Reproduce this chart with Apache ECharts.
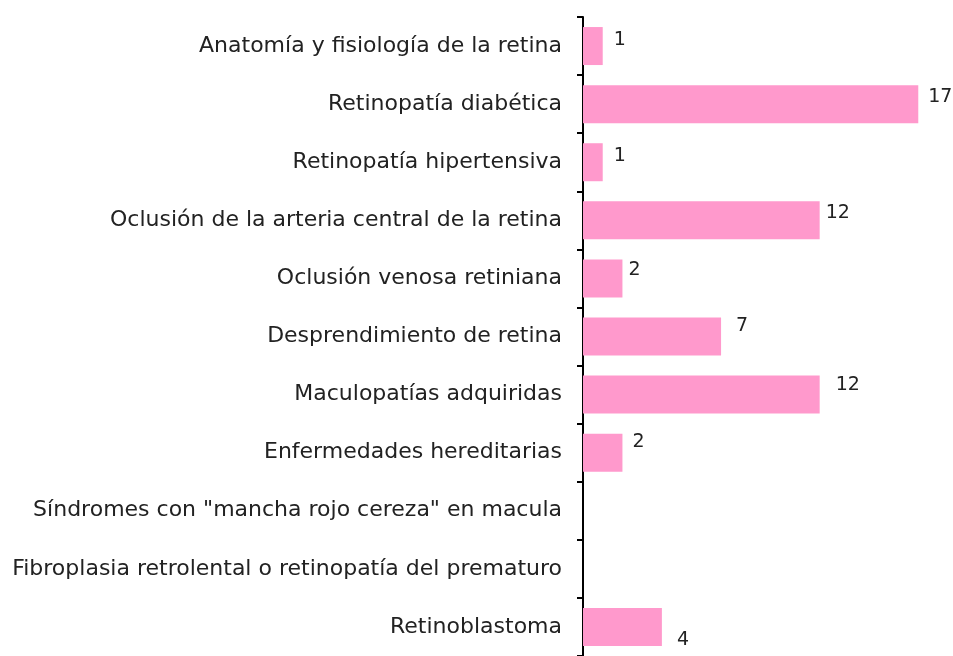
<!DOCTYPE html>
<html>
<head>
<meta charset="utf-8">
<script src="https://cdn.jsdelivr.net/npm/echarts@6/dist/echarts.min.js"></script>
<style>
    html, body {margin: 0; padding: 0; background: #fff;}
    #chart {width: 953px; height: 656px;}
</style>
</head>
<body>
<div id="chart"></div>
<script>
const categories = [
    'Anatomía y fisiología de la retina',
    'Retinopatía diabética',
    'Retinopatía hipertensiva',
    'Oclusión de la arteria central de la retina',
    'Oclusión venosa retiniana',
    'Desprendimiento de retina',
    'Maculopatías adquiridas',
    'Enfermedades hereditarias',
    'Síndromes con "mancha rojo cereza" en macula',
    'Fibroplasia retrolental o retinopatía del prematuro',
    'Retinoblastoma'
]
const values = [1, 17, 1, 12, 2, 7, 12, 2, 0, 0, 4]

// label nudges, the labels in the picture sit a bit off the bar ends
const labelOffsets = [[5, -6], [4, -7], [5, -6], [0, -7], [0, -8], [9, -10], [10, -10], [4, -11], [0, 0], [0, 0], [9, 13]]

const chart = echarts.init(document.getElementById('chart'))

const option = {
    backgroundColor: '#fff',
    grid: {
        left: 583,
        right: 15,
        top: 17,
        bottom: -6
    },
    xAxis: {
        type: 'value',
        min: 0,
        max: 18,
        show: false
    },
    yAxis: {
        type: 'category',
        inverse: true,
        data: categories,
        axisLine: {show: true, lineStyle: {color: '#000', width: 2}},
        axisTick: {show: true, length: 6, lineStyle: {color: '#000', width: 2}},
        axisLabel: {
            margin: 21,
            fontFamily: 'DejaVu Sans',
            fontSize: 22,
            color: '#222',
            padding: [4, 0, 0, 0]
        }
    },
    series: [{
        type: 'bar',
        data: values.map((v, i) => ({
            value: v,
            label: {show: v > 0, offset: labelOffsets[i]}
        })),
        barWidth: 38,
        itemStyle: {color: '#ff99cc'},
        label: {
            position: 'right',
            distance: 6,
            fontFamily: 'DejaVu Sans',
            fontSize: 19,
            color: '#222'
        },
        animation: false
    }]
}

chart.setOption(option)
</script>
</body>
</html>
